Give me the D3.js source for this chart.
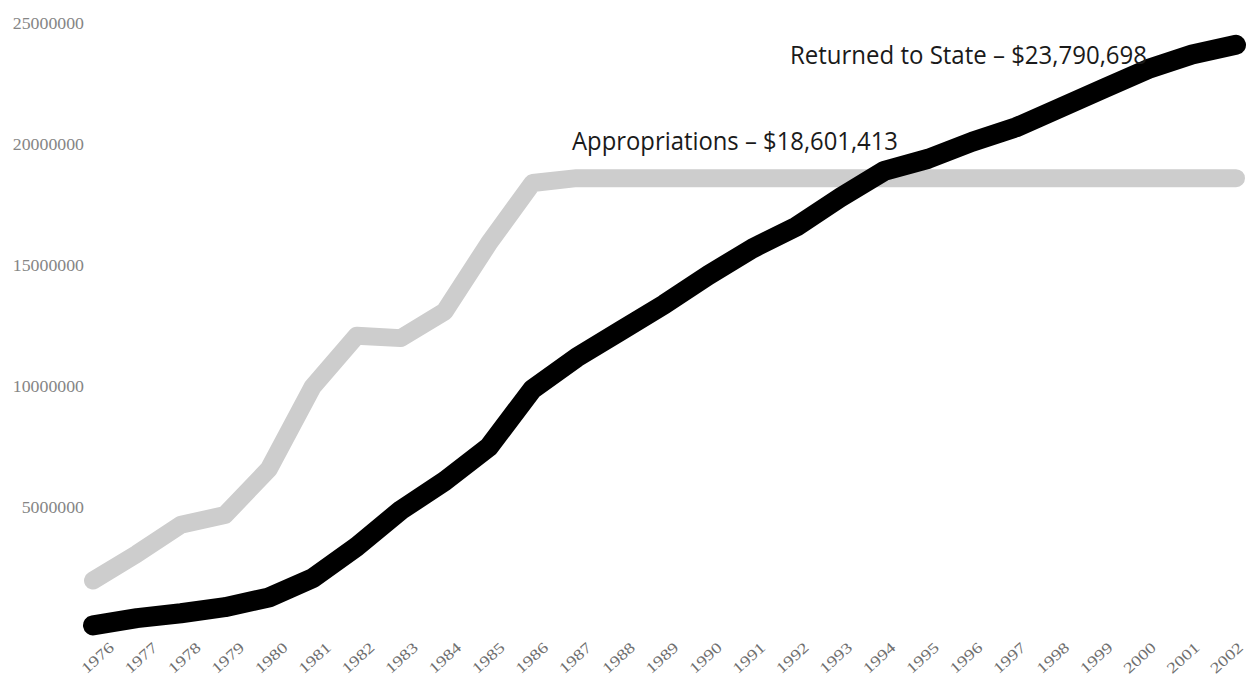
<!DOCTYPE html>
<html>
<head>
<meta charset="utf-8">
<script src="https://cdn.jsdelivr.net/npm/d3@7/dist/d3.min.js"></script>
<style>
  html, body { margin: 0; padding: 0; background: #ffffff; }
  svg { display: block; }
</style>
</head>
<body>
<svg id="chart" width="1249" height="679"></svg>
<script>
// ---- data ----
const years = [1976,1977,1978,1979,1980,1981,1982,1983,1984,1985,1986,1987,1988,1989,1990,1991,1992,1993,1994,1995,1996,1997,1998,1999,2000,2001,2002];
const appropriations = [2.0,3.1,4.3,4.7,6.6,10.0,12.1,12.0,13.1,15.9,18.4,18.6,18.6,18.6,18.6,18.6,18.6,18.6,18.6,18.6,18.6,18.6,18.6,18.6,18.6,18.6,18.6].map(v => v * 1e6);
const returnedToState = [0.15,0.45,0.65,0.9,1.3,2.1,3.4,4.9,6.1,7.5,9.9,11.2,12.3,13.4,14.6,15.7,16.6,17.8,18.9,19.4,20.1,20.7,21.5,22.3,23.1,23.7,24.1].map(v => v * 1e6);
const yTicks = [5000000, 10000000, 15000000, 20000000, 25000000];
const annotations = [
  { text: "Appropriations – $18,601,413", series: "appropriations" },
  { text: "Returned to State – $23,790,698", series: "returned" }
];

// ---- layout ----
const svg = d3.select("#chart");
const x = d3.scaleLinear().domain([1976, 2002]).range([93, 1236]);
const xLabel = d3.scaleLinear().domain([1976, 2002]).range([111, 1240]);
const y = d3.scaleLinear().domain([0, 25000000]).range([629, 23]);

// y axis labels
const yAxis = d3.axisLeft(y).tickValues(yTicks).tickFormat(d3.format("d")).tickSize(0).tickPadding(0);
const gy = svg.append("g").attr("transform", "translate(84,0)").call(yAxis);
gy.select(".domain").remove();
gy.selectAll("text")
  .attr("font-family", "'Liberation Serif', serif")
  .attr("font-size", 16)
  .attr("fill", "#858585")
  .attr("textLength", function(d){ return String(d).length * 8.9; })
  .attr("lengthAdjust", "spacingAndGlyphs");

// x axis labels
const xAxis = d3.axisBottom(xLabel).tickValues(years).tickFormat(d3.format("d")).tickSize(0).tickPadding(0);
const gx = svg.append("g").attr("transform", "translate(0,645)").call(xAxis);
gx.select(".domain").remove();
gx.selectAll("text")
  .attr("font-family", "'Liberation Serif', serif")
  .attr("font-size", 15)
  .attr("fill", "#6f6f6f")
  .attr("text-anchor", "end")
  .attr("dy", "0.35em")
  .attr("y", 0)
  .attr("x", 0)
  .attr("textLength", 38)
  .attr("lengthAdjust", "spacingAndGlyphs")
  .attr("transform", "rotate(-42)");

// lines
const line = d3.line().x((d, i) => x(years[i])).y(d => y(d)).curve(d3.curveLinear);

svg.append("path")
  .datum(appropriations)
  .attr("d", line)
  .attr("fill", "none")
  .attr("stroke", "#cdcdcd")
  .attr("stroke-width", 18)
  .attr("stroke-linejoin", "round")
  .attr("stroke-linecap", "round");

svg.append("path")
  .datum(returnedToState)
  .attr("d", line)
  .attr("fill", "none")
  .attr("stroke", "#000000")
  .attr("stroke-width", 20)
  .attr("stroke-linejoin", "round")
  .attr("stroke-linecap", "round");

// annotations
const annPos = {
  appropriations: { x: 572, y: 150, w: 326 },
  returned: { x: 790, y: 64, w: 357 }
};
svg.selectAll("text.ann")
  .data(annotations)
  .enter().append("text")
  .attr("class", "ann")
  .attr("x", d => annPos[d.series].x)
  .attr("y", d => annPos[d.series].y)
  .attr("font-family", "'Open Sans', sans-serif")
  .attr("font-size", 25)
  .attr("fill", "#1a1a1a")
  .attr("textLength", d => annPos[d.series].w)
  .attr("lengthAdjust", "spacingAndGlyphs")
  .text(d => d.text);
</script>
</body>
</html>
